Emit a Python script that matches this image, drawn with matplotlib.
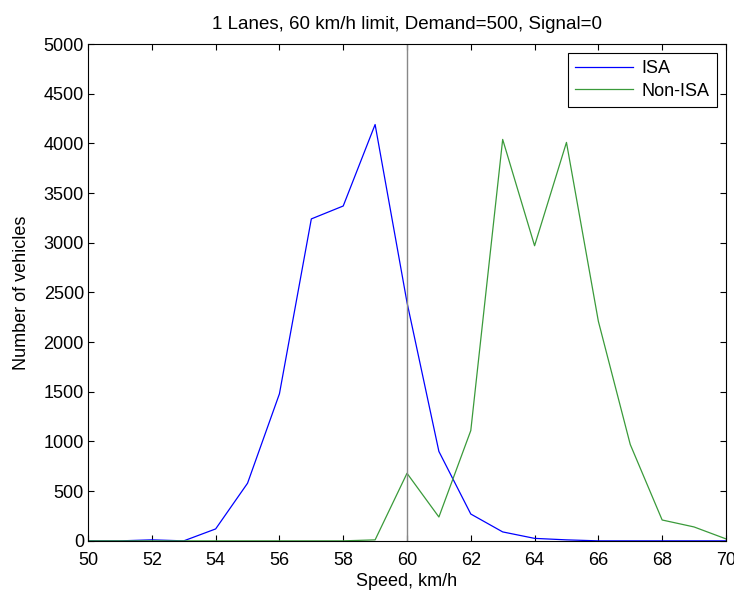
import matplotlib
matplotlib.use("Agg")
import matplotlib.pyplot as plt
import numpy as np

speed = list(range(50, 71))
isa = [0, 0, 10, 0, 120, 580, 1480, 3240, 3370, 4190, 2400, 900, 270, 90, 25, 10, 0, 0, 0, 0, 0]
non_isa = [0, 0, 0, 0, 0, 0, 0, 0, 0, 10, 680, 240, 1110, 4040, 2970, 4010, 2210, 970, 210, 140, 20]
xticks = list(range(50, 71, 2))
yticks = list(range(0, 5001, 500))

plt.rcParams['font.family'] = ['Liberation Sans', 'DejaVu Sans']
plt.rcParams['font.size'] = 13

fig = plt.figure(figsize=(7.34, 5.95), dpi=100)
ax = fig.add_axes([0.12, 0.091, 0.869, 0.835])
ax.plot(speed, isa, color='#0000ff', lw=0.9, label='ISA')
ax.plot(speed, non_isa, color='#3a9a3a', lw=0.9, label='Non-ISA')
ax.axvline(60, color='#888888', lw=1.0)
ax.set_xlim(50, 70)
ax.set_ylim(0, 5000)
ax.set_xticks(xticks)
ax.set_yticks(yticks)
ax.tick_params(direction='in', top=True, right=True, length=4, width=0.8,
               labelsize=13)
ax.tick_params(axis='x', pad=8)
ax.tick_params(axis='y', pad=3)
for s in ax.spines.values():
    s.set_linewidth(0.8)
ax.set_xlabel('Speed, km/h', labelpad=3, fontsize=13)
ax.set_ylabel('Number of vehicles', labelpad=10, fontsize=13)
ax.set_title('1 Lanes, 60 km/h limit, Demand=500, Signal=0', fontsize=13.5, pad=11)
leg = ax.legend(loc='upper right', fancybox=False, edgecolor='black', framealpha=1,
                handlelength=3.2, handletextpad=0.5, borderaxespad=0.5, fontsize=13,
                labelspacing=0.3, borderpad=0.4)
leg.get_frame().set_linewidth(0.8)
fig.savefig('out.png', dpi=100)
